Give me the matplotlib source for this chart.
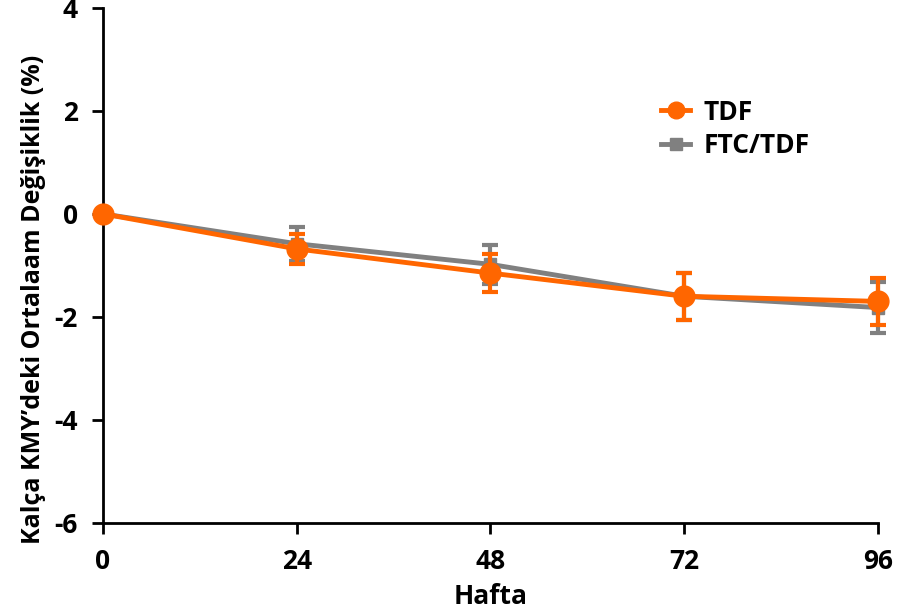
import matplotlib
matplotlib.use("Agg")
import matplotlib.pyplot as plt
from matplotlib.lines import Line2D

weeks = [0, 24, 48, 72, 96]
tdf_mean = [0.0, -0.68, -1.15, -1.60, -1.70]
tdf_err = [0.0, 0.29, 0.37, 0.46, 0.46]
ftc_mean = [0.0, -0.58, -0.98, -1.60, -1.82]
ftc_err = [0.0, 0.33, 0.38, 0.46, 0.50]
xticks = [0, 24, 48, 72, 96]
yticks = [-6, -4, -2, 0, 2, 4]

plt.rcParams['font.family'] = ['Open Sans', 'DejaVu Sans']
plt.rcParams['font.weight'] = 'bold'
plt.rcParams['axes.unicode_minus'] = False

fig = plt.figure(figsize=(9.03, 6.10), dpi=100)
ax = fig.add_axes([0.114, 0.143, 0.858, 0.844])

orange = '#FF6600'
gray = '#808080'

ax.errorbar(weeks, ftc_mean, yerr=ftc_err, color=gray, lw=3.5, marker='s', ms=9,
            capsize=6, capthick=3, elinewidth=3, clip_on=False, zorder=2)
ax.errorbar(weeks, tdf_mean, yerr=tdf_err, color=orange, lw=3.5, marker='o', ms=15,
            capsize=6, capthick=3, elinewidth=3, clip_on=False, zorder=3)

ax.set_xlim(0, 96)
ax.set_ylim(-6, 4)
ax.set_xticks(xticks)
ax.set_yticks(yticks)
for s in ['top', 'right']:
    ax.spines[s].set_visible(False)
for s in ['left', 'bottom']:
    ax.spines[s].set_linewidth(2)
ax.tick_params(axis='both', direction='out', length=8, width=2, labelsize=19)
ax.tick_params(axis='x', pad=10)
ax.tick_params(axis='y', pad=10)
for lbl in ax.get_xticklabels() + ax.get_yticklabels():
    lbl.set_fontweight('bold')
ax.set_xlabel('Hafta', fontsize=19, fontweight='bold', labelpad=6)
ax.set_ylabel('Kalça KMY\u2019deki Ortalaam Değişiklik (%)', fontsize=18, fontweight='bold')
ax.yaxis.set_label_coords(-0.074, 0.433)

handles = [
    Line2D([], [], color=orange, lw=3.5, marker='o', ms=12),
    Line2D([], [], color=gray, lw=3.5, marker='s', ms=8),
]
ax.legend(handles, ['TDF', 'FTC/TDF'], loc='upper left', bbox_to_anchor=(0.69, 0.87),
          frameon=False, handlelength=1.1, handletextpad=0.5,
          labelspacing=0.25, prop={'weight': 'bold', 'size': 19})

fig.savefig('out.png', dpi=100)
